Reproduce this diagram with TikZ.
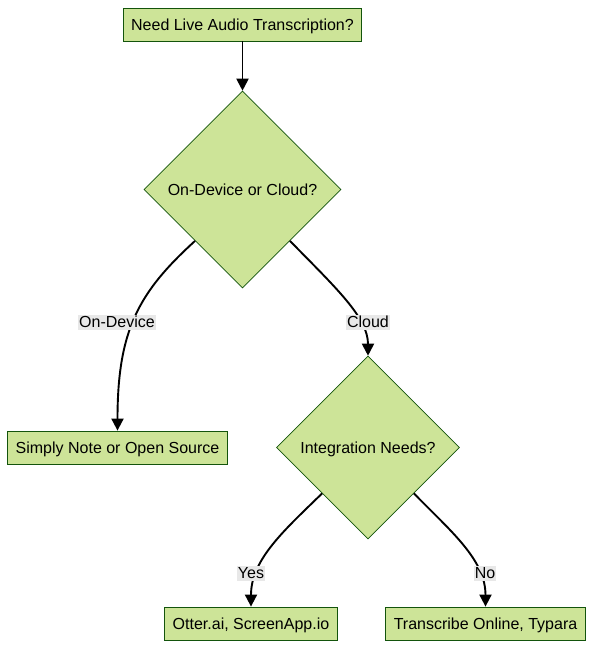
\documentclass[tikz,border=0pt]{standalone}
\usepackage{fontspec}
\setmainfont{Liberation Sans}
\usetikzlibrary{shapes.geometric,arrows.meta,calc}
\definecolor{nodefill}{HTML}{CDE498}
\definecolor{nodeline}{HTML}{13540C}
\definecolor{lblbg}{HTML}{E8E8E8}
\begin{document}
\begin{tikzpicture}[x=1pt,y=-1pt,
  every node/.style={font=\fontsize{16}{19}\selectfont,text height=13pt,text depth=1.5pt},
  procbox/.style={draw=nodeline,fill=nodefill,line width=0.8pt,minimum height=33pt,inner xsep=8pt,inner ysep=0pt},
  decision/.style={draw=nodeline,fill=nodefill,line width=0.6pt,diamond,aspect=1,inner sep=0pt},
  edge/.style={line width=1.9pt,-{Triangle[length=12pt,width=12pt]}},
  elabel/.style={fill=lblbg,inner xsep=1pt,inner ysep=0pt,text height=12pt,text depth=3pt}
]
\useasboundingbox (0,0) rectangle (593,649);
\node[procbox,minimum width=237pt] (start) at (242.5,24.5) {Need Live Audio Transcription?};
\node[decision,minimum width=197pt,minimum height=197pt] (d1) at (242.5,189.5) {On-Device or Cloud?};
\node[procbox,minimum width=219pt] (simply) at (117.5,447.5) {Simply Note or Open Source};
\node[decision,minimum width=183pt,minimum height=183pt] (d2) at (368,447.5) {Integration Needs?};
\node[procbox,minimum width=172pt] (otter) at (251,623.5) {Otter.ai, ScreenApp.io};
\node[procbox,minimum width=199pt] (trans) at (485.5,623.5) {Transcribe Online, Typara};

\coordinate (d1sw) at ($(d1.west)!0.52!(d1.south)$);
\coordinate (d1se) at ($(d1.east)!0.52!(d1.south)$);
\coordinate (d2sw) at ($(d2.west)!0.5!(d2.south)$);
\coordinate (d2se) at ($(d2.east)!0.5!(d2.south)$);
\draw[edge] (start.south) -- (d1.north);
\draw[edge] (d1sw) .. controls +(-56,51) and +(0,-101) .. (simply.north);
\draw[edge] (d1se) .. controls +(47,48) and +(0,-38) .. (d2.north);
\draw[edge] (d2sw) .. controls +(-38,37) and +(0,-47) .. (otter.north);
\draw[edge] (d2se) .. controls +(37,38) and +(0,-47) .. (trans.north);

\node[elabel] (l1) at (117,322.5) {On-Device};
\node[elabel] (l2) at (368,322.5) {Cloud};
\node[elabel] (l3) at (251,573.5) {Yes};
\node[elabel] (l4) at (485,573.5) {No};
\end{tikzpicture}
\end{document}
